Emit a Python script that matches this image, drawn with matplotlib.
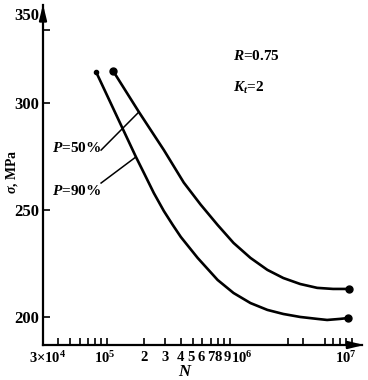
import matplotlib
matplotlib.use("Agg")
import matplotlib.pyplot as plt
from matplotlib.ticker import NullFormatter
from matplotlib.transforms import ScaledTranslation

plt.rcParams['font.family'] = ['Liberation Serif', 'DejaVu Serif']
plt.rcParams['font.weight'] = 'bold'
plt.rcParams['mathtext.fontset'] = 'custom'
plt.rcParams['mathtext.rm'] = 'Liberation Serif:bold'
plt.rcParams['mathtext.bf'] = 'Liberation Serif:bold'
plt.rcParams['mathtext.it'] = 'Liberation Serif:italic:bold'

# P=50% curve (upper)
n50 = [1.12e5, 1.82e5, 2.91e5, 4.23e5, 5.81e5, 7.99e5, 1.078e6, 1.482e6,
       2.037e6, 2.748e6, 3.777e6, 5.193e6, 7.007e6, 9.45e6]
s50 = [315.0, 295.8, 278.0, 262.8, 252.5, 243.0, 234.6, 227.6,
       222.0, 218.2, 215.4, 213.6, 213.1, 213.1]

# P=90% curve (lower)
n90 = [8.14e4, 1.721e5, 2.0e5, 2.41e5, 2.91e5, 3.44e5, 4.0e5, 5.49e5, 7.99e5,
       1.078e6, 1.482e6, 2.037e6, 2.748e6, 3.777e6, 5.193e6, 6.26e6, 7.99e6,
       9.28e6]
s90 = [314.5, 274.8, 267.3, 257.9, 249.5, 243.0, 237.4, 227.6, 217.3,
       211.2, 206.5, 203.3, 201.4, 200.0, 199.1, 198.6, 199.1, 199.5]

xticks = [3e4, 1e5, 2e5, 3e5, 4e5, 5e5, 6e5, 7e5, 8e5, 9e5, 1e6, 1e7]
xlabels = [r'$3{\times}10^4$', r'$10^5$', '2', '3', '4', '5', '6', '7', '8', '9',
           r'$10^6$', r'$10^7$']
xminor = [4e4, 5e4, 6e4, 7e4, 8e4, 9e4, 3e6, 4e6, 6e6, 7e6, 8e6, 9e6]
yticks = [200, 250, 300]

fig = plt.figure(figsize=(3.68, 3.80), dpi=100)
ax = fig.add_axes([43 / 368, 35 / 380, 319 / 368, 340 / 380])

ax.plot(n50, s50, color='black', lw=1.9, solid_capstyle='round',
        solid_joinstyle='round')
ax.plot(n90, s90, color='black', lw=1.9, solid_capstyle='round',
        solid_joinstyle='round')
ax.plot([n50[0], n50[-1], n90[-1]], [s50[0], s50[-1], s90[-1]], 'o',
        color='black', ms=5)
ax.plot([n90[0]], [s90[0]], 'o', color='black', ms=3)

ax.set_xscale('log')
ax.set_xlim(3e4, 1.2058e7)
ax.set_ylim(186.9, 345.8)

ax.set_xticks(xticks, xlabels)
ax.set_xticks(xminor, minor=True)
ax.xaxis.set_minor_formatter(NullFormatter())
ax.set_yticks(yticks)
ax.set_yticks([334], minor=True)

ax.tick_params(which='both', direction='in', length=5, width=1.2)
ax.tick_params(axis='y', pad=3, labelsize=12)
ax.tick_params(axis='x', pad=4, labelsize=10.5)

# nudge crowded x labels (pixels)
shifts = [5, -2, 0, 0, 0, -2, -1, 0, 1, 3, 0, -6]
for lab, dx in zip(ax.get_xticklabels(), shifts):
    lab.set_transform(lab.get_transform() +
                      ScaledTranslation(dx / 100, 0, fig.dpi_scale_trans))
ax.get_xticklabels()[10].set_horizontalalignment('left')
ax.get_xticklabels()[10].set_transform(
    ax.get_xticklabels()[10].get_transform() +
    ScaledTranslation(1 / 100, 0, fig.dpi_scale_trans))

for side in ['top', 'right']:
    ax.spines[side].set_visible(False)
for side in ['left', 'bottom']:
    ax.spines[side].set_linewidth(1.6)

# arrow heads
ax.annotate('', xy=(0, 1.01), xytext=(0, 0.95), xycoords='axes fraction',
            arrowprops=dict(arrowstyle='-|>,head_width=0.22,head_length=0.9',
                            color='black', lw=1.6))
ax.annotate('', xy=(1.015, 0), xytext=(0.95, 0), xycoords='axes fraction',
            arrowprops=dict(arrowstyle='-|>,head_width=0.22,head_length=0.9',
                            color='black', lw=1.6))
ax.text(-0.01, 0.968, '350', transform=ax.transAxes, ha='right', va='center',
        fontsize=12, fontweight='bold')

# leaders and labels
ax.plot([8.94e4, 1.82e5], [278.0, 295.8], color='black', lw=1.1)
ax.plot([8.94e4, 1.721e5], [262.6, 274.8], color='black', lw=1.1)
ax.text(8.9e4, 277.0, r'$P$=50%', ha='right', va='baseline', fontsize=11)
ax.text(8.9e4, 257.0, r'$P$=90%', ha='right', va='baseline', fontsize=11)
ax.text(1.06e6, 320.1, r'$R$=0.75', ha='left', va='baseline', fontsize=11)
ax.text(1.06e6, 305.1, r'$K_t$=2', ha='left', va='baseline', fontsize=11)

fig.text(12 / 368, 1 - 172 / 380, r'$\sigma$, MPa', rotation=90,
         ha='center', va='center', fontsize=10)
fig.text(185 / 368, 1 - 372 / 380, r'$N$', ha='center', va='center',
         fontsize=12)

fig.savefig('out.png', dpi=100)
